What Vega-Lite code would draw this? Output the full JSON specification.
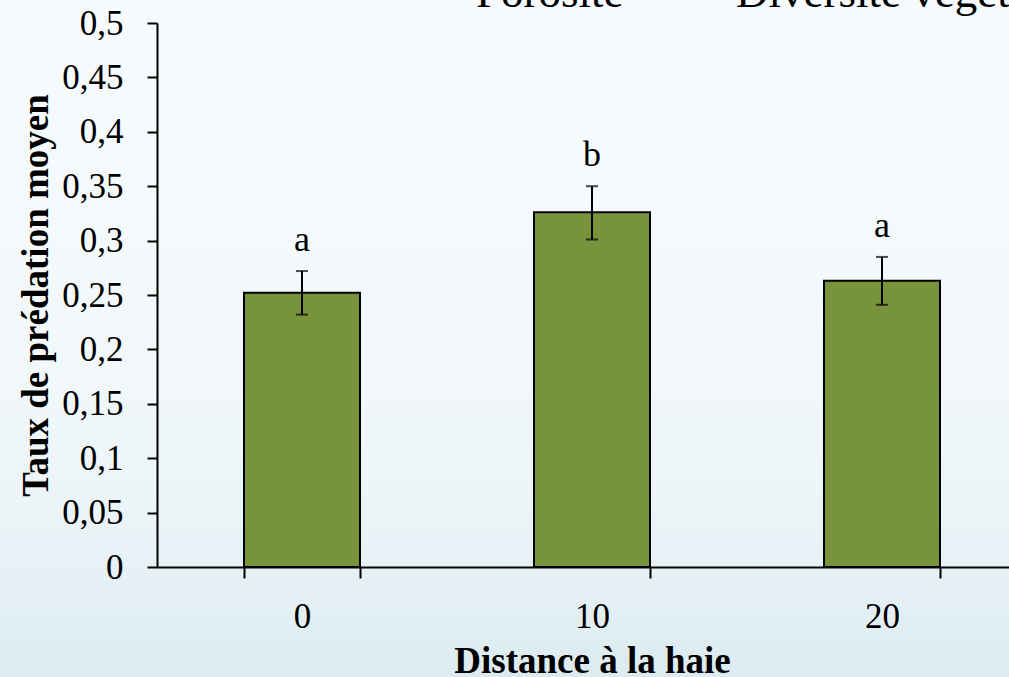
{
  "$schema": "https://vega.github.io/schema/vega-lite/v6.json",
  "width": 1009,
  "height": 677,
  "autosize": {"type": "none"},
  "padding": 0,
  "background": "#F6FAFC",
  "title": {
    "text": "Porosité\u00a0\u00a0\u00a0\u00a0\u00a0\u00a0\u00a0\u00a0\u00a0\u00a0Diversité végétale",
    "anchor": "start",
    "frame": "group",
    "orient": "top",
    "dx": 476,
    "offset": -52,
    "baseline": "alphabetic",
    "font": "Liberation Serif",
    "fontSize": 45,
    "fontWeight": "normal",
    "color": "#000000"
  },
  "data": {
    "values": [
      {"distance": "0", "taux": 0.252, "bas": 0.232, "haut": 0.272, "lettre": "a"},
      {"distance": "10", "taux": 0.326, "bas": 0.301, "haut": 0.350, "lettre": "b"},
      {"distance": "20", "taux": 0.263, "bas": 0.241, "haut": 0.285, "lettre": "a"}
    ]
  },
  "encoding": {
    "x": {
      "field": "distance",
      "type": "nominal",
      "sort": ["0", "10", "20"],
      "scale": {"range": [157, 1027], "paddingInner": 0.6, "paddingOuter": 0.3},
      "axis": {
        "title": "Distance à la haie",
        "offset": -110,
        "tickBand": "extent",
        "tickSize": 11,
        "labelAngle": 0,
        "labelPadding": 21,
        "titlePadding": 9
      }
    }
  },
  "layer": [
    {
      "mark": {"type": "bar", "fill": "#77933C", "stroke": "#000000", "strokeWidth": 2},
      "encoding": {
        "y": {
          "field": "taux",
          "type": "quantitative",
          "title": "Taux de prédation moyen",
          "scale": {"domain": [0, 0.5], "nice": false, "range": [567, 23]},
          "axis": {
            "offset": -157,
            "values": [0, 0.05, 0.1, 0.15, 0.2, 0.25, 0.3, 0.35, 0.4, 0.45, 0.5],
            "labelExpr": "replace(format(datum.value, '.2~f'), '.', ',')",
            "tickSize": 10,
            "labelPadding": 24,
            "titlePadding": 6,
            "grid": false
          }
        }
      }
    },
    {
      "mark": {"type": "rule", "color": "#000000", "strokeWidth": 2},
      "encoding": {
        "y": {"field": "haut", "type": "quantitative", "title": "Taux de prédation moyen"},
        "y2": {"field": "bas"}
      }
    },
    {
      "mark": {"type": "tick", "color": "#000000", "size": 12, "thickness": 2, "orient": "horizontal"},
      "encoding": {
        "y": {"field": "haut", "type": "quantitative", "title": "Taux de prédation moyen"}
      }
    },
    {
      "mark": {"type": "tick", "color": "#000000", "size": 12, "thickness": 2, "orient": "horizontal"},
      "encoding": {
        "y": {"field": "bas", "type": "quantitative", "title": "Taux de prédation moyen"}
      }
    },
    {
      "mark": {
        "type": "text",
        "font": "Liberation Serif",
        "fontSize": 36,
        "color": "#000000",
        "baseline": "alphabetic",
        "dy": -20
      },
      "encoding": {
        "y": {"field": "haut", "type": "quantitative", "title": "Taux de prédation moyen"},
        "text": {"field": "lettre"}
      }
    }
  ],
  "config": {
    "view": {
      "stroke": null,
      "fill": {
        "gradient": "linear",
        "x1": 0, "y1": 0, "x2": 0, "y2": 1,
        "stops": [
          {"offset": 0, "color": "#F7FBFD"},
          {"offset": 0.55, "color": "#F2F8FA"},
          {"offset": 0.8, "color": "#E9F3F7"},
          {"offset": 1, "color": "#DCEBF1"}
        ]
      }
    },
    "axis": {
      "domainColor": "#000000",
      "domainWidth": 2,
      "tickColor": "#000000",
      "tickWidth": 2,
      "labelFont": "Liberation Serif",
      "labelFontSize": 35,
      "labelColor": "#000000",
      "titleFont": "Liberation Serif",
      "titleFontSize": 37,
      "titleFontWeight": "bold",
      "titleColor": "#000000",
      "grid": false
    }
  }
}
